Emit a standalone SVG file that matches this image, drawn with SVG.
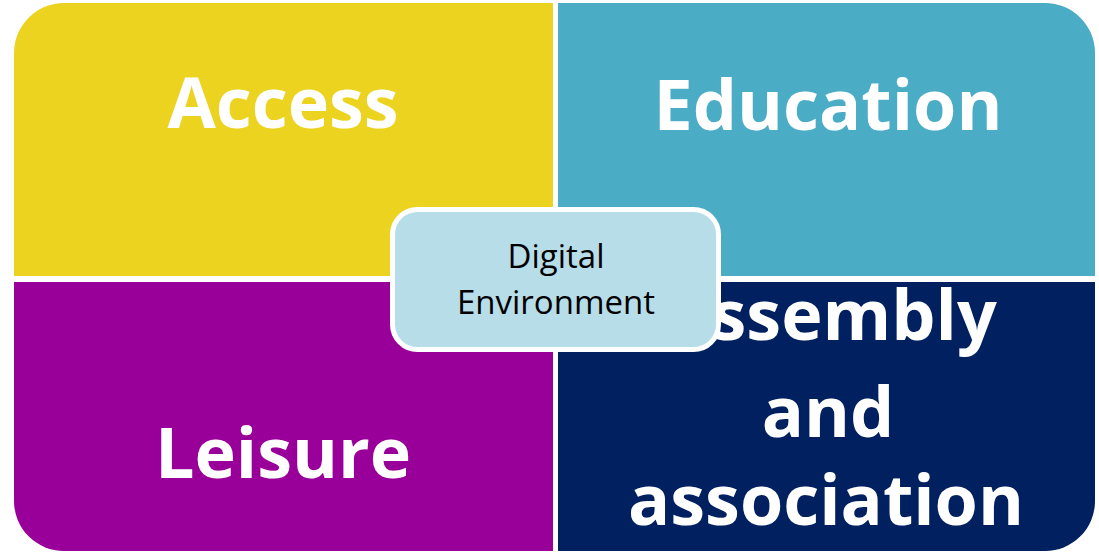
<svg xmlns="http://www.w3.org/2000/svg" width="1099" height="553" viewBox="0 0 1099 553">
<style>
.q{font-family:"Open Sans","Noto Sans","Liberation Sans",sans-serif;font-weight:bold;font-size:70px;fill:#fff;text-anchor:middle}
.c{font-family:"Open Sans","Noto Sans","Liberation Sans",sans-serif;font-size:33px;fill:#000;text-anchor:middle}
</style>
<rect width="1099" height="553" fill="#fff"/>
<g id="access">
<path d="M14,276 V53 A50,50 0 0 1 64,3 H553 V276 Z" fill="#EBD320"/>
<text class="q" x="283" y="128">Access</text>
</g>
<g id="education">
<path d="M558,3 H1045 A50,50 0 0 1 1095,53 V276 H558 Z" fill="#4BACC6"/>
<text class="q" x="828" y="130">Education</text>
</g>
<g id="leisure">
<path d="M14,282 H553 V551 H64 A50,50 0 0 1 14,501 Z" fill="#990099"/>
<text class="q" x="283" y="478">Leisure</text>
</g>
<g id="assembly">
<path d="M558,282 H1095 V501 A50,50 0 0 1 1045,551 H558 Z" fill="#002060"/>
<text class="q" x="830" y="340">Assembly</text>
<text class="q" x="828" y="437">and</text>
<text class="q" x="826" y="525">association</text>
</g>
<g id="connectors"></g>
<g id="digital-environment">
<rect x="392.5" y="209.5" width="326" height="140" rx="25" fill="#B7DDE8" stroke="#fff" stroke-width="5"/>
<text class="c" x="556" y="268">Digital</text>
<text class="c" x="556" y="314">Environment</text>
</g>
</svg>
